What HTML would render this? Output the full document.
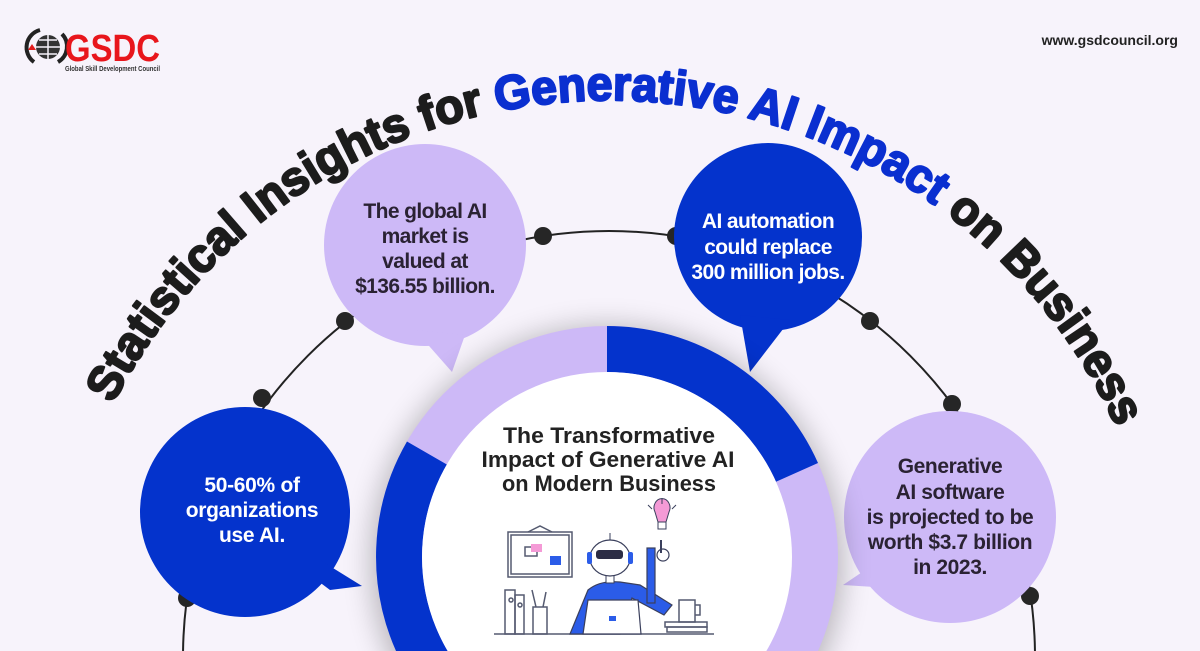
<!DOCTYPE html>
<html><head><meta charset="utf-8"><style>
html,body{margin:0;padding:0;background:#f7f3fb;width:1200px;height:651px;overflow:hidden;}
svg{display:block;}
</style></head><body>
<svg width="1200" height="651" viewBox="0 0 1200 651" xmlns="http://www.w3.org/2000/svg" font-family="Liberation Sans, Arial, sans-serif">
<defs>
<filter id="sh" x="-30%" y="-30%" width="160%" height="160%"><feGaussianBlur stdDeviation="14"/></filter>
<path id="tp" d="M113,404 A557,557 0 0 1 1114,422"/>
</defs>
<rect width="1200" height="651" fill="#f7f3fb"/>

<!-- logo -->
<g>
<path d="M34,62 A18,18 0 0 1 40,30" fill="none" stroke="#222" stroke-width="4"/>
<path d="M62,34 A18,18 0 0 1 58,62" fill="none" stroke="#222" stroke-width="4"/>
<circle cx="48" cy="47" r="12" fill="#333"/>
<path d="M36,47 H60 M48,35 V59 M39,40 H57 M39,54 H57" stroke="#f7f3fb" stroke-width="1.5"/>
<path d="M28,50 l4,-6 l4,6z" fill="#e21b1b"/>
<text x="65" y="61" font-size="38" font-weight="bold" fill="#e8161c" textLength="95" lengthAdjust="spacingAndGlyphs">GSDC</text>
<text x="65" y="71" font-size="7" font-weight="bold" fill="#333" textLength="95" lengthAdjust="spacingAndGlyphs">Global Skill Development Council</text>
</g>
<text x="1178" y="45" font-size="14" font-weight="bold" fill="#222" text-anchor="end">www.gsdcouncil.org</text>

<!-- title on arc -->
<text font-size="48" font-weight="bold" fill="#1c1c1c" stroke="#1c1c1c" stroke-width="2.2" stroke-linejoin="round">
<textPath href="#tp" textLength="1250" lengthAdjust="spacingAndGlyphs">Statistical Insights for <tspan fill="#0a2fd0" stroke="#0a2fd0">Generative AI Impact</tspan> on Business</textPath>
</text>

<!-- connector arc -->
<circle cx="609" cy="657" r="426" fill="none" stroke="#222" stroke-width="2"/>
<g fill="#262626">
<circle cx="187" cy="598" r="9"/><circle cx="262" cy="398" r="9"/><circle cx="345" cy="321" r="9"/>
<circle cx="543" cy="236" r="9"/><circle cx="676" cy="236" r="9"/><circle cx="870" cy="321" r="9"/>
<circle cx="952" cy="404" r="9"/><circle cx="1030" cy="596" r="9"/>
</g>

<!-- bubbles -->
<g>
<circle cx="425" cy="245" r="101" fill="#cdb9f7"/>
<path d="M415,330 L452,372 L465,335z" fill="#cdb9f7"/>
<text fill="#2a2233" font-size="21" font-weight="bold" text-anchor="middle" letter-spacing="-0.6">
<tspan x="425" y="218">The global AI</tspan><tspan x="425" y="243">market is</tspan><tspan x="425" y="268">valued at</tspan><tspan x="425" y="293">$136.55 billion.</tspan></text>

<circle cx="768" cy="237" r="94" fill="#0433cc"/>
<path d="M740,315 L750,372 L790,320z" fill="#0433cc"/>
<text fill="#fff" font-size="21" font-weight="bold" text-anchor="middle" letter-spacing="-0.6">
<tspan x="768" y="228">AI automation</tspan><tspan x="768" y="254">could replace</tspan><tspan x="768" y="279">300 million jobs.</tspan></text>

<circle cx="245" cy="512" r="105" fill="#0433cc"/>
<path d="M320,560 L362,586 L330,590 L310,575z" fill="#0433cc"/>
<text fill="#fff" font-size="21" font-weight="bold" text-anchor="middle" letter-spacing="-0.3">
<tspan x="252" y="492">50-60% of</tspan><tspan x="252" y="517">organizations</tspan><tspan x="252" y="542">use AI.</tspan></text>

<circle cx="950" cy="517" r="106" fill="#cdb9f7"/>
<path d="M880,560 L843,585 L890,588z" fill="#cdb9f7"/>
<text fill="#2a2233" font-size="21" font-weight="bold" text-anchor="middle" letter-spacing="-0.4">
<tspan x="950" y="473">Generative</tspan><tspan x="950" y="499">AI software</tspan><tspan x="950" y="524">is projected to be</tspan><tspan x="950" y="549">worth $3.7 billion</tspan><tspan x="950" y="574">in 2023.</tspan></text>
</g>

<!-- center circle -->
<circle cx="607" cy="562" r="236" fill="#000" opacity="0.25" filter="url(#sh)"/>
<circle cx="607" cy="557" r="231" fill="#cdb9f7"/>
<path d="M607,349 A208,208 0 0 1 797,472.4" fill="none" stroke="#0433cc" stroke-width="46"/>
<path d="M607,765 A208,208 0 0 1 426.9,453" fill="none" stroke="#0433cc" stroke-width="46"/>
<circle cx="607" cy="557" r="185" fill="#fff"/>
<text fill="#222" font-size="22" font-weight="bold" text-anchor="middle" lengthAdjust="spacingAndGlyphs">
<tspan x="609" y="443" textLength="212" lengthAdjust="spacingAndGlyphs">The Transformative</tspan><tspan x="608" y="467" textLength="253" lengthAdjust="spacingAndGlyphs">Impact of Generative AI</tspan><tspan x="609" y="491" textLength="214" lengthAdjust="spacingAndGlyphs">on Modern Business</tspan></text>

<!-- illustration -->
<g stroke="#555a70" stroke-width="1.5" fill="none">
<line x1="494" y1="634" x2="714" y2="634"/>
<rect x="508" y="532" width="64" height="45"/>
<rect x="511" y="535" width="58" height="39"/>
<path d="M528,532 L540,526 L552,532"/>
<rect x="525" y="547" width="12" height="9" fill="#fff"/>
<rect x="531" y="544" width="11" height="8" fill="#f49ad6" stroke="none"/>
<rect x="550" y="556" width="11" height="9" fill="#2b5ce8" stroke="none"/>
<rect x="505" y="590" width="10" height="44"/>
<rect x="515" y="595" width="9" height="39"/>
<circle cx="511" cy="600" r="2"/><circle cx="520" cy="605" r="2"/>
<rect x="533" y="607" width="14" height="27"/>
<line x1="536" y1="607" x2="532" y2="590"/><line x1="543" y1="607" x2="546" y2="592"/>
<rect x="679" y="600" width="16" height="22"/>
<path d="M695,605 h5 v10 h-5"/>
<rect x="665" y="622" width="42" height="5"/><rect x="667" y="627" width="40" height="5"/>
</g>
<!-- robot -->
<g>
<path d="M570,634 L588,590 Q600,580 620,582 L640,585 L672,605 L664,615 L632,598 L620,634z" fill="#2b5ce8" stroke="#3a3f5c" stroke-width="1.2"/>
<rect x="647" y="548" width="8" height="55" fill="#2b5ce8" stroke="#3a3f5c" stroke-width="1.2"/>
<circle cx="663" cy="555" r="6" fill="#fff" stroke="#3a3f5c" stroke-width="1.2"/>
<line x1="661" y1="553" x2="661" y2="540" stroke="#3a3f5c" stroke-width="2"/>
<rect x="606" y="573" width="8" height="10" fill="#fff" stroke="#3a3f5c"/>
<ellipse cx="610" cy="558" rx="20" ry="18" fill="#fff" stroke="#3a3f5c" stroke-width="1.2"/>
<rect x="596" y="550" width="27" height="9" rx="3" fill="#2c2d45"/>
<rect x="587" y="552" width="5" height="12" rx="2" fill="#2b5ce8"/>
<rect x="628" y="552" width="5" height="12" rx="2" fill="#2b5ce8"/>
<line x1="610" y1="540" x2="610" y2="533" stroke="#3a3f5c"/>
<path d="M583,634 L588,600 L638,600 L641,634z" fill="#fff" stroke="#3a3f5c" stroke-width="1.2"/>
<rect x="609" y="616" width="7" height="5" fill="#2b5ce8"/>
<path d="M655,512 a8,9 0 1 1 14,0 l-3,10 h-8z" fill="#f49ad6" stroke="#3a3f5c"/>
<rect x="658" y="522" width="8" height="7" fill="#fff" stroke="#3a3f5c"/>
<path d="M648,505 l4,4 M676,505 l-4,4 M662,498 v6" stroke="#3a3f5c"/>
</g>
</svg>
</body></html>
